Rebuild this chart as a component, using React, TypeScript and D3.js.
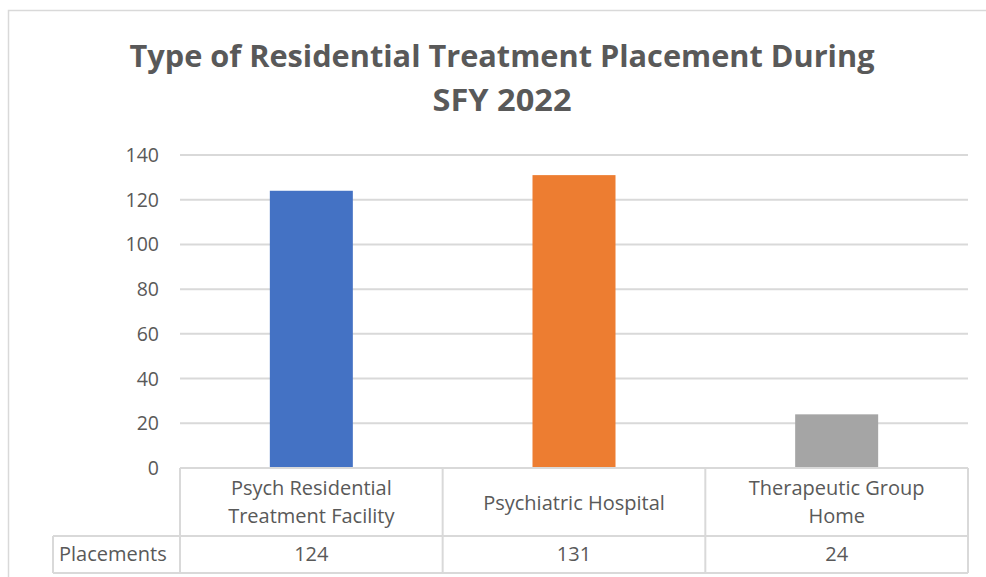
import React from 'react';
import * as d3 from 'd3';

const categories = ['Psych Residential Treatment Facility', 'Psychiatric Hospital', 'Therapeutic Group Home'];
const categoryLines = [['Psych Residential', 'Treatment Facility'], ['Psychiatric Hospital'], ['Therapeutic Group', 'Home']];
const placements = [124, 131, 24];
const seriesName = 'Placements';
const yTicks = [0, 20, 40, 60, 80, 100, 120, 140];
const titleLines = ['Type of Residential Treatment Placement During', 'SFY 2022'];

const barColors = ['#4472c4', '#ed7d31', '#a5a5a5'];
const textColor = '#595959';
const lineColor = '#d9d9d9';
const font = "'Open Sans', 'Noto Sans', sans-serif";

const W = 986;
const H = 577;

export default function App() {
  const plot = { left: 180, right: 968, top: 155, bottom: 468 };
  const table = { mid: 536, bottom: 573, labelLeft: 53 };

  const y = d3.scaleLinear().domain([0, 140]).range([plot.bottom, plot.top]);
  const x = d3.scaleBand<string>().domain(categories).range([plot.left, plot.right]).paddingInner(0).paddingOuter(0);
  const barW = x.bandwidth() * 0.316;

  // vertical table dividers
  const dividers = [plot.left, ...categories.map(c => (x(c) ?? 0) + x.bandwidth())];

  return (
    <div style={{ position: 'absolute', left: 0, top: 0 }}>
      <svg width={W} height={H} style={{ display: 'block', background: '#fff' }}>
        {/* chart frame */}
        <rect x={8.5} y={10.5} width={1000} height={600} fill="#fff" stroke={lineColor} strokeWidth={1.5} />

        {/* title */}
        <g fontFamily={font} fontWeight={700} fill={textColor} textAnchor="middle">
          <text x={502} y={67} fontSize={31} textLength={745} lengthAdjust="spacingAndGlyphs">{titleLines[0]}</text>
          <text x={502} y={111} fontSize={31} textLength={139} lengthAdjust="spacingAndGlyphs">{titleLines[1]}</text>
        </g>

        {/* gridlines + y ticks */}
        {yTicks.map(t => (
          <g key={t}>
            {t > 0 && (
              <line x1={plot.left} x2={plot.right} y1={y(t)} y2={y(t)} stroke={lineColor} strokeWidth={2} />
            )}
            <text x={159} y={y(t)} dy="0.36em" textAnchor="end" fontFamily={font} fontSize={19.5} fill={textColor}>
              {t}
            </text>
          </g>
        ))}

        {/* bars */}
        {categories.map((c, i) => (
          <rect
            key={c}
            x={(x(c) ?? 0) + x.bandwidth() / 2 - barW / 2}
            y={y(placements[i])}
            width={barW}
            height={plot.bottom - y(placements[i])}
            fill={barColors[i]}
          />
        ))}

        {/* data table */}
        <g stroke={lineColor} strokeWidth={2} fill="none">
          <line x1={plot.left} x2={plot.right} y1={plot.bottom} y2={plot.bottom} />
          <line x1={table.labelLeft} x2={plot.right} y1={table.mid} y2={table.mid} />
          <line x1={table.labelLeft} x2={plot.right} y1={table.bottom} y2={table.bottom} />
          <line x1={table.labelLeft} x2={table.labelLeft} y1={table.mid} y2={table.bottom} />
          {dividers.map((d, i) => (
            <line key={i} x1={d} x2={d} y1={plot.bottom} y2={table.bottom} />
          ))}
        </g>

        <g fontFamily={font} fontSize={20} fill={textColor} textAnchor="middle">
          {categories.map((c, i) => {
            const cx = (x(c) ?? 0) + x.bandwidth() / 2;
            const lines = categoryLines[i];
            const y0 = lines.length === 1 ? 510 : 495;
            return (
              <g key={c}>
                {lines.map((l, j) => (
                  <text key={j} x={cx} y={y0 + j * 28}>{l}</text>
                ))}
                <text x={cx} y={561}>{placements[i]}</text>
              </g>
            );
          })}
          <text x={table.labelLeft + 6} y={561} textAnchor="start">{seriesName}</text>
        </g>
      </svg>
    </div>
  );
}
